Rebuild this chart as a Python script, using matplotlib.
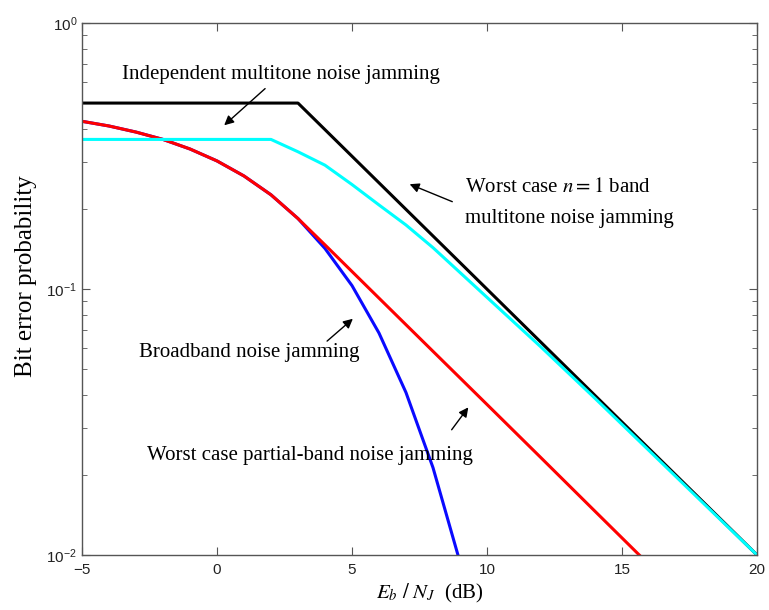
import numpy as np
import matplotlib
matplotlib.use('Agg')
import matplotlib.pyplot as plt

plt.rcParams['font.family'] = ['Liberation Sans', 'DejaVu Sans']
plt.rcParams['mathtext.fontset'] = 'stix'

# Eb/NJ in dB
snr_db = [-5, -4, -3, -2, -1, 0, 1, 2, 3, 4, 5, 6, 7, 8, 9]
snr_red = [-5, -4, -3, -2, -1, 0, 1, 2, 3, 4, 6, 8, 10, 12, 14, 16]
snr_cyan = [-5, 2, 3, 4, 5, 6, 7, 8, 10, 12, 14, 16, 18, 20]
snr_black = [-5, 3, 20]

# Bit error probabilities
broadband = [0.427, 0.410, 0.389, 0.365, 0.336, 0.303, 0.266, 0.226, 0.184,
             0.142, 0.103, 0.0683, 0.0408, 0.0213, 0.0094]
partial_band = [0.427, 0.410, 0.389, 0.365, 0.336, 0.303, 0.266, 0.226, 0.184,
                0.1465, 0.0924, 0.0583, 0.0368, 0.0232, 0.0146, 0.0092]
independent_mt = [0.365, 0.365, 0.328, 0.292, 0.247, 0.207, 0.174, 0.143,
                  0.093, 0.0605, 0.0388, 0.0247, 0.0157, 0.0100]
worst_mt = [0.5, 0.5, 0.01]

fig = plt.figure(figsize=(7.69, 6.10), dpi=100)
ax = fig.add_axes([0.1066, 0.0902, 0.8778, 0.8721])

lw = 2.2
ax.plot(snr_black, worst_mt, color='black', linewidth=lw)
ax.plot(snr_db, broadband, color='#0a0aff', linewidth=lw)
ax.plot(snr_red, partial_band, color='#ff0000', linewidth=lw)
ax.plot(snr_cyan, independent_mt, color='#00ffff', linewidth=lw)

ax.set_yscale('log')
ax.set_xlim(-5, 20)
ax.set_ylim(1e-2, 1)
ax.set_xticks([-5, 0, 5, 10, 15, 20])

for s in ax.spines.values():
    s.set_color('#555555')
    s.set_linewidth(1.0)
ax.tick_params(which='both', direction='in', top=True, right=True,
               colors='#555555', labelcolor='#222222', labelsize=11)
ax.tick_params(which='major', length=6)
ax.tick_params(which='minor', length=3.5)
ax.tick_params(axis='x', pad=6)

serif = ['Liberation Serif', 'DejaVu Serif']
ax.set_ylabel('Bit error probability', fontsize=18, family=serif)
ax.yaxis.set_label_coords(-0.066, 0.525)
ax.set_xlabel(r'$E_b\ /\ N_J\ $ (dB)', fontsize=15, family=serif)
ax.xaxis.set_label_coords(0.515, -0.051)

fs = 15
arrow = dict(arrowstyle='-|>', color='black', lw=1.0, mutation_scale=14)
ax.annotate('Independent multitone noise jamming', xy=(0.19, 0.406), xytext=(-3.52, 0.616),
            fontsize=fs, family=serif, va='baseline', ha='left', arrowprops=arrow)
ax.annotate('', xy=(7.04, 0.250), xytext=(8.81, 0.211), arrowprops=arrow)
ax.text(9.2, 0.2316, r'Worst case $n=1$ band', fontsize=fs, family=serif,
        va='baseline', ha='left')
ax.text(9.2, 0.177, 'multitone noise jamming', fontsize=fs, family=serif,
        va='baseline', ha='left')
ax.annotate('', xy=(5.11, 0.0785), xytext=(4.0, 0.0627), arrowprops=arrow)
ax.text(-2.9, 0.0555, 'Broadband noise jamming', fontsize=fs, family=serif,
        va='baseline', ha='left')
ax.annotate('', xy=(9.37, 0.0366), xytext=(8.63, 0.029), arrowprops=arrow)
ax.text(-2.6, 0.0228, 'Worst case partial-band noise jamming', fontsize=fs, family=serif,
        va='baseline', ha='left')

fig.savefig('out.png', dpi=100)
